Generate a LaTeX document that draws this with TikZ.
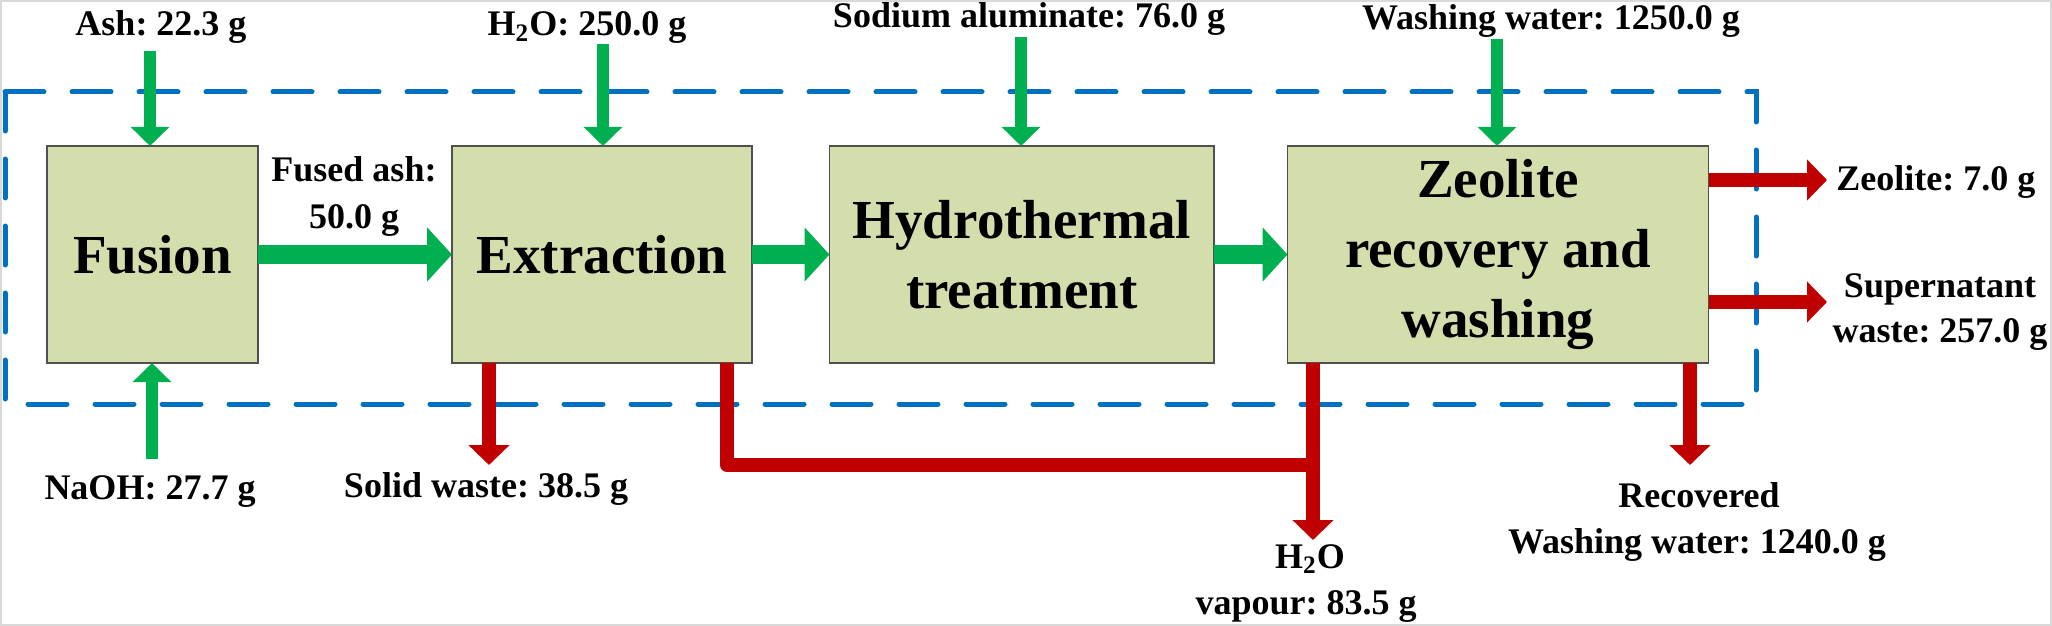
\documentclass[tikz,border=0pt]{standalone}
\usepackage{fontspec}
\setmainfont{Liberation Serif}
\frenchspacing
\usetikzlibrary{arrows.meta}
\definecolor{gflow}{HTML}{00B050}
\definecolor{rflow}{HTML}{C00000}
\definecolor{bdash}{HTML}{0070C0}
\definecolor{boxfill}{RGB}{212,221,172}
\definecolor{boxline}{RGB}{80,80,80}
\definecolor{frame}{RGB}{217,217,217}
\tikzset{
  procbox/.style={draw=boxline, fill=boxfill, line width=0.9pt, inner sep=0pt, outer sep=0pt,
    anchor=north west, minimum height=108.5pt, align=center,
    font=\fontsize{27.5}{35}\selectfont\bfseries},
  lbl/.style={inner sep=0pt, anchor=base, font=\fontsize{18}{23}\selectfont\bfseries},
  garrow/.style={draw=gflow, line width=6.25pt, -{Triangle[width=18.75pt,length=9.5pt]}},
  gbig/.style={draw=gflow, line width=9.5pt, -{Triangle[width=26.5pt,length=12.5pt]}},
  rarrow/.style={draw=rflow, line width=7pt, line join=round, -{Triangle[width=20pt,length=10pt]}},
  rline/.style={draw=rflow, line width=7pt, line join=round},
  boundary/.style={draw=bdash, line width=2.5pt, line cap=round, dash pattern=on 19.5pt off 14pt}
}
\begin{document}
\frenchspacing
\begin{tikzpicture}[x=0.5pt,y=-0.5pt]
\useasboundingbox (0,0) rectangle (2052,626);
\draw[frame, line width=1pt] (1,1) rectangle (2051,625);

% system boundary
\draw[boundary] (5,92) rectangle (1756,404);

% process boxes
\node[procbox, minimum width=105.5pt] (fusion) at (47,146) {Fusion};
\node[procbox, minimum width=150pt] (extr) at (452,146) {Extraction};
\node[procbox, minimum width=192.25pt] (hydro) at (829.5,146) {Hydrothermal\\treatment};
\node[procbox, minimum width=210.5pt] (zeo) at (1287.5,146) {Zeolite\\recovery and\\washing};

% labels
\node[lbl] (ash) at (161,36) {Ash: 22.3 g};
\node[lbl] (water) at (587,36) {H\textsubscript{2}O: 250.0 g};
\node[lbl] (sodium) at (1029,28) {Sodium aluminate: 76.0 g};
\node[lbl] (washin) at (1551,30) {Washing water: 1250.0 g};
\node[lbl] (naoh) at (150,499) {NaOH: 27.7 g};
\node[lbl] (solid) at (486,497) {Solid waste: 38.5 g};
\node[lbl] (fusedA) at (354,182) {Fused ash:};
\node[lbl] (fusedB) at (354,228) {50.0 g};
\node[lbl] (vapA) at (1310,568) {H\textsubscript{2}O};
\node[lbl] (vapB) at (1306,614) {vapour: 83.5 g};
\node[lbl] (recA) at (1699,507) {Recovered};
\node[lbl] (recB) at (1697,553) {Washing water: 1240.0 g};
\node[lbl, anchor=base west] (zeol) at (1836,191) {Zeolite: 7.0 g};
\node[lbl] (supA) at (1940,297) {Supernatant};
\node[lbl] (supB) at (1940,342.5) {waste: 257.0 g};

% main flow
\draw[gbig] (fusion.east) -- (extr.west);
\draw[gbig] (extr.east) -- (hydro.west);
\draw[gbig] (hydro.east) -- (zeo.west);

% green inputs
\coordinate (ashS) at (150,51);
\coordinate (waterS) at (603,44);
\coordinate (sodiumS) at (1021,37);
\coordinate (washS) at (1497,39);
\coordinate (naohS) at (152,459);
\draw[garrow] (ashS) -- (ashS |- fusion.north);
\draw[garrow] (waterS) -- (waterS |- extr.north);
\draw[garrow] (sodiumS) -- (sodiumS |- hydro.north);
\draw[garrow] (washS) -- (washS |- zeo.north);
\draw[garrow] (naohS) -- (naohS |- fusion.south);

% red outputs
\coordinate (solidX) at (489,0);
\coordinate (solidE) at (489,465);
\draw[rarrow] (solidX |- extr.south) -- (solidE);
\coordinate (vapX) at (1313,0);
\coordinate (vapE) at (1313,540);
\coordinate (vapJ) at (1313,465);
\coordinate (extrX) at (727,0);
\draw[rline] (extrX |- extr.south) |- (vapJ);
\draw[rarrow] (vapX |- zeo.south) -- (vapE);
\coordinate (recX) at (1690,0);
\coordinate (recE) at (1690,465);
\draw[rarrow] (recX |- zeo.south) -- (recE);
\coordinate (zeoE) at (1827,180);
\coordinate (supE) at (1827,302);
\draw[rarrow] (zeoE -| zeo.east) -- (zeoE);
\draw[rarrow] (supE -| zeo.east) -- (supE);
\end{tikzpicture}
\end{document}
